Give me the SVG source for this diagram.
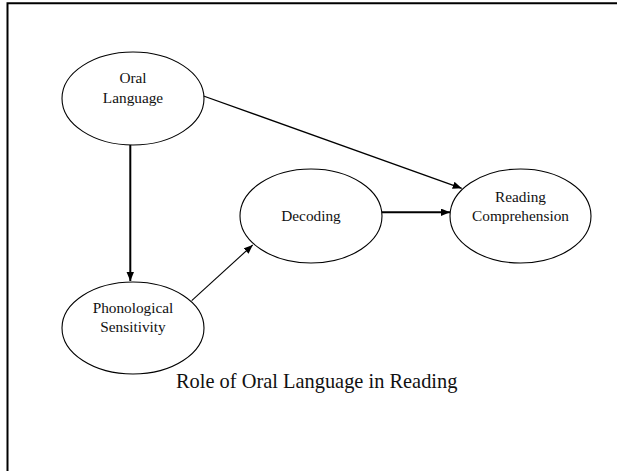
<svg xmlns="http://www.w3.org/2000/svg" width="617" height="471" viewBox="0 0 617 471">
<style>
.node ellipse{fill:#fff;stroke:#000;stroke-width:1.1}
.lbl{font-family:"Liberation Serif","Times New Roman",serif;font-size:15.3px;fill:#111;text-anchor:middle}
.cap{font-family:"Liberation Serif","Times New Roman",serif;font-size:20.4px;fill:#111;text-anchor:middle}
.edge{stroke:#000;fill:none}
</style>
<defs>
<marker id="ah" markerUnits="userSpaceOnUse" markerWidth="10" markerHeight="8" refX="9" refY="3.75" orient="auto">
<path d="M0,0 L9,3.75 L0,7.5 z" fill="#000"/>
</marker>
</defs>
<rect width="617" height="471" fill="#fff"/>
<path d="M7.5,471 V3.2 H617" fill="none" stroke="#000" stroke-width="2"/>
<g id="connectors">
<line class="edge" x1="203.5" y1="96" x2="461.7" y2="188.3" stroke-width="1.3" marker-end="url(#ah)"/>
<line class="edge" x1="130.3" y1="145" x2="130.3" y2="281" stroke-width="2" marker-end="url(#ah)"/>
<line class="edge" x1="191.7" y1="300.7" x2="252.7" y2="245" stroke-width="1.1" marker-end="url(#ah)"/>
<line class="edge" x1="382" y1="212.3" x2="450" y2="212.3" stroke-width="2" marker-end="url(#ah)"/>
</g>
<g id="oral-language" class="node">
<ellipse cx="133" cy="98.5" rx="71" ry="46.5"/>
<text class="lbl" x="133" y="83.3">Oral</text>
<text class="lbl" x="133" y="102.5">Language</text>
</g>
<g id="phonological-sensitivity" class="node">
<ellipse cx="133" cy="328" rx="71" ry="46"/>
<text class="lbl" x="133" y="313.3">Phonological</text>
<text class="lbl" x="133" y="332">Sensitivity</text>
</g>
<g id="decoding" class="node">
<ellipse cx="311" cy="216" rx="71" ry="47"/>
<text class="lbl" x="311" y="221">Decoding</text>
</g>
<g id="reading-comprehension" class="node">
<ellipse cx="520.5" cy="216" rx="70.5" ry="47"/>
<text class="lbl" x="520.5" y="202">Reading</text>
<text class="lbl" x="520.5" y="220.5">Comprehension</text>
</g>
<text class="cap" x="316.7" y="388">Role of Oral Language in Reading</text>
</svg>
